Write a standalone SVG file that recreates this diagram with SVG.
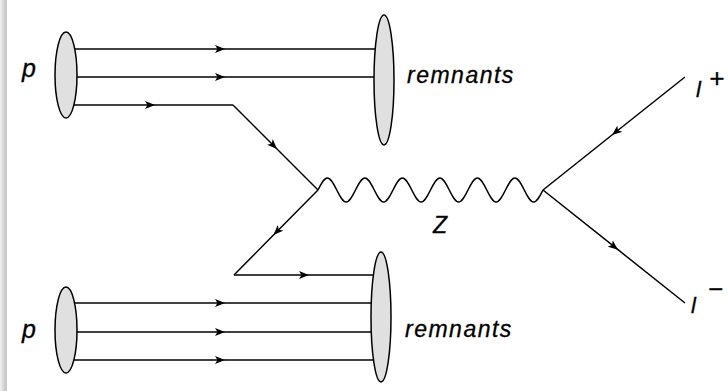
<svg xmlns="http://www.w3.org/2000/svg" width="728" height="391" viewBox="0 0 728 391">
<style>
.ln{fill:none;stroke:#000;stroke-width:1.5;marker-mid:url(#arr)}
.pl{fill:none;stroke:#000;stroke-width:1.5}
.el{fill:#e0e0e0;stroke:#000;stroke-width:1.5}
.t{font-family:"Liberation Sans",Arial,Helvetica,sans-serif;font-style:italic;fill:#000;stroke:#000;stroke-width:0.3}
</style>
<defs>
<marker id="arr" viewBox="0 0 10 8" refX="10" refY="4" markerWidth="10" markerHeight="8" markerUnits="userSpaceOnUse" orient="auto">
<path d="M0,0 L10,4 L0,8 L2.5,4 z" fill="#000"/>
</marker>
<linearGradient id="sh" x1="0" y1="0" x2="1" y2="0">
<stop offset="0" stop-color="#f2f2f2"/>
<stop offset="0.85" stop-color="#c4c4c4"/>
<stop offset="1" stop-color="#d0d0d0"/>
</linearGradient>
</defs>
<rect x="0" y="0" width="728" height="391" fill="#fff"/>
<rect x="0" y="0" width="7" height="391" fill="url(#sh)"/>
<g id="connectors">
<path class="ln" d="M66,49 L225,49 L384,49"/>
<path class="ln" d="M66,77 L225,77 L384,77"/>
<path class="ln" d="M66,105 L155,105 L233,105"/>
<path class="ln" d="M233,105 L277,149 L318,190"/>
<path class="ln" d="M318,190 L273.5,235 L234,275"/>
<path class="ln" d="M234,275 L309,275 L381,275"/>
<path class="ln" d="M66,303 L225,303 L381,303"/>
<path class="ln" d="M66,332 L225,332 L381,332"/>
<path class="ln" d="M66,360 L225,360 L381,360"/>
<path class="ln" d="M685,77 L612,135 L543,190"/>
<path class="ln" d="M543,190 L618,249.7 L685,303"/>
<path id="Zboson" class="pl" d="M318,190
c 3.134,-6.3 6,-12 9.375,-12 c 3.375,0 6.241,5.7 9.375,12 c 3.134,6.3 6,12 9.375,12 c 3.375,0 6.241,-5.7 9.375,-12
c 3.134,-6.3 6,-12 9.375,-12 c 3.375,0 6.241,5.7 9.375,12 c 3.134,6.3 6,12 9.375,12 c 3.375,0 6.241,-5.7 9.375,-12
c 3.134,-6.3 6,-12 9.375,-12 c 3.375,0 6.241,5.7 9.375,12 c 3.134,6.3 6,12 9.375,12 c 3.375,0 6.241,-5.7 9.375,-12
c 3.134,-6.3 6,-12 9.375,-12 c 3.375,0 6.241,5.7 9.375,12 c 3.134,6.3 6,12 9.375,12 c 3.375,0 6.241,-5.7 9.375,-12
c 3.134,-6.3 6,-12 9.375,-12 c 3.375,0 6.241,5.7 9.375,12 c 3.134,6.3 6,12 9.375,12 c 3.375,0 6.241,-5.7 9.375,-12
c 3.134,-6.3 6,-12 9.375,-12 c 3.375,0 6.241,5.7 9.375,12 c 3.134,6.3 6,12 9.375,12 c 3.375,0 6.241,-5.7 9.375,-12"/>
</g>
<g id="proton-top">
<ellipse class="el" cx="66" cy="75" rx="11" ry="43"/>
<text class="t" x="22" y="77" font-size="25">p</text>
</g>
<g id="proton-bottom">
<ellipse class="el" cx="66" cy="330" rx="11" ry="43"/>
<text class="t" x="22" y="338" font-size="25">p</text>
</g>
<g id="remnants-top">
<ellipse class="el" cx="384" cy="80" rx="10" ry="65"/>
<text class="t" x="407" y="83" font-size="23" letter-spacing="1.5">remnants</text>
</g>
<g id="remnants-bottom">
<ellipse class="el" cx="381" cy="317" rx="10" ry="65"/>
<text class="t" x="405" y="337" font-size="23" letter-spacing="1.5">remnants</text>
</g>
<g id="label-Z">
<text class="t" x="433" y="233" font-size="23">Z</text>
</g>
<g id="lepton-plus">
<text class="t" x="696" y="97" font-size="22">l</text>
<text class="t" x="709" y="87" font-size="26">+</text>
</g>
<g id="lepton-minus">
<text class="t" x="691" y="313" font-size="22">l</text>
<text class="t" x="708" y="298" font-size="26">−</text>
</g>
</svg>
